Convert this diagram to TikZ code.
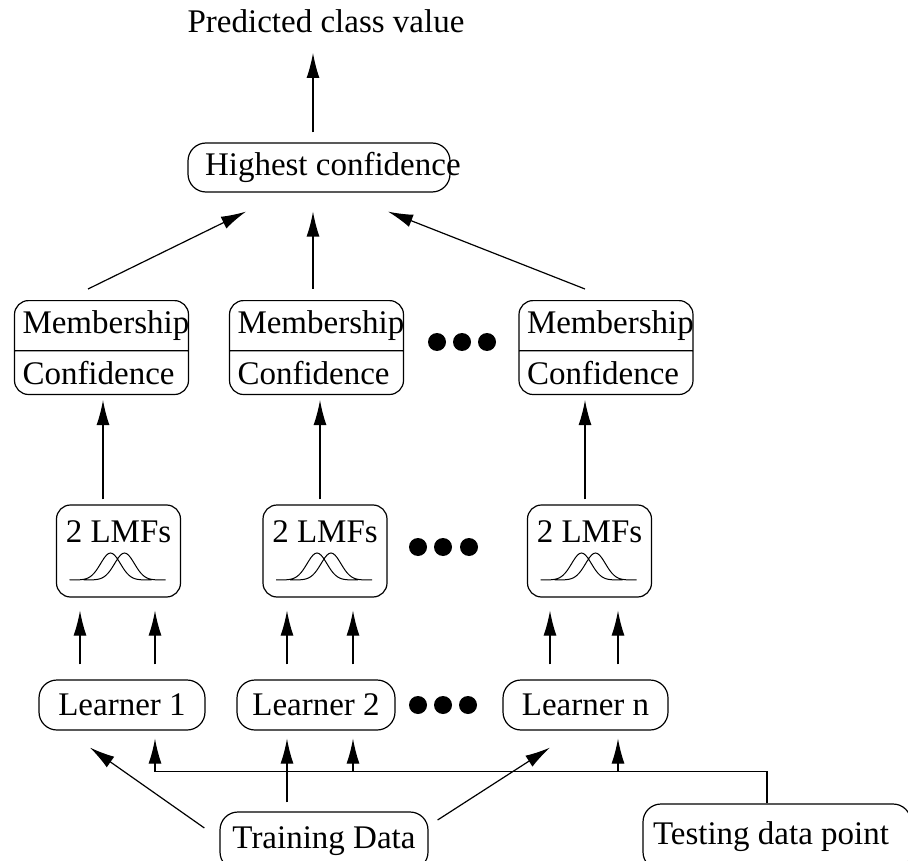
\documentclass[tikz,border=0pt]{standalone}
\usepackage{fontspec}
\setmainfont{Liberation Serif}
\usetikzlibrary{arrows.meta,shapes.multipart}

\begin{document}
\begin{tikzpicture}[x=1pt,y=-1pt,
    font=\fontsize{33}{40}\selectfont,
    box/.style={draw, rounded corners=14pt, line width=1.2pt, inner sep=0pt},
    learner/.style={box, rounded corners=18pt, minimum width=#1, minimum height=50pt},
    memb/.style={rectangle split, rectangle split parts=2, draw, rounded corners=14pt,
        line width=1.2pt, inner xsep=8pt, inner ysep=9.5pt, anchor=north},
    lmf/.style={box, minimum width=124pt, minimum height=92pt, text height=23pt, text depth=40pt},
    arr/.style={-{Latex[length=25pt,width=13pt]}, line width=1.2pt}]
    \useasboundingbox (0,0) rectangle (908,861);

    \node (pred) [anchor=base, inner sep=0pt] at (326,33) {Predicted class value};
    \node (hc) [box, rounded corners=18pt, minimum height=49pt, inner xsep=17pt] at (319,167.5) {\makebox[228pt][l]{Highest confidence}};

    \node (m1) [memb] at (101.5,300) {\makebox[158pt][l]{Membership}\nodepart{two}\makebox[158pt][l]{Confidence}};
    \node (m2) [memb] at (316.5,300) {\makebox[158pt][l]{Membership}\nodepart{two}\makebox[158pt][l]{Confidence}};
    \node (m3) [memb] at (606,300) {\makebox[158pt][l]{Membership}\nodepart{two}\makebox[158pt][l]{Confidence}};
    \fill (437,342) circle (9pt);
    \fill (462,342) circle (9pt);
    \fill (487,342) circle (9pt);

    \node (f1) [lmf] at (118.5,551) {2 LMFs};
    \node (f2) [lmf] at (325,551) {2 LMFs};
    \node (f3) [lmf] at (589.5,551) {2 LMFs};
    \foreach \f in {f1,f2,f3}{
        \draw[shift={(\f.center)}, line width=1pt]
            plot[domain=-41:41, samples=41, smooth] ({\x-8},{29-27*exp(-((\x/14)^2))})
            plot[domain=-41:41, samples=41, smooth] ({\x+6},{29-27*exp(-((\x/14)^2))});
    }
    \fill (418,547) circle (9pt);
    \fill (443,547) circle (9pt);
    \fill (469,547) circle (9pt);

    \node (l1) [learner=166pt] at (122,705) {Learner 1};
    \node (l2) [learner=158pt] at (316,705) {Learner 2};
    \node (ln) [learner=165pt] at (585.5,705) {Learner n};
    \fill (418,705) circle (9pt);
    \fill (443,705) circle (9pt);
    \fill (468,705) circle (9pt);

    \node (tr) [box, rounded corners=18pt, minimum width=208pt, minimum height=58pt] at (324,841) {Training Data};
    \node (te) [box, rounded corners=18pt, inner xsep=10pt, minimum height=66pt] at (777,837) {\makebox[248pt][l]{Testing data point}};

    \draw[arr] ([xshift=-6pt,yshift=10pt]hc.north) -- ([xshift=-13pt,yshift=-20pt]pred.base);

    \draw[arr] ([xshift=-13.5pt,yshift=11pt]m1.north) -- ([xshift=-73pt,yshift=-19pt]hc.south);
    \draw[arr] ([xshift=-3.5pt,yshift=11pt]m2.north) -- ([xshift=-6pt,yshift=-19pt]hc.south);
    \draw[arr] ([xshift=-21pt,yshift=11pt]m3.north) -- ([xshift=69pt,yshift=-19pt]hc.south);

    \draw[arr] ([xshift=-15.5pt,yshift=5pt]f1.north) -- ([xshift=1.5pt,yshift=-5pt]m1.south);
    \draw[arr] ([xshift=-5pt,yshift=5pt]f2.north) -- ([xshift=3.5pt,yshift=-5pt]m2.south);
    \draw[arr] ([xshift=-4.5pt,yshift=5pt]f3.north) -- ([xshift=-21pt,yshift=-5pt]m3.south);

    \draw[arr] ([xshift=-42pt,yshift=15pt]l1.north) -- ([xshift=-38.5pt,yshift=-13pt]f1.south);
    \draw[arr] ([xshift=33pt,yshift=15pt]l1.north) -- ([xshift=36.5pt,yshift=-13pt]f1.south);
    \draw[arr] ([xshift=-29pt,yshift=15pt]l2.north) -- ([xshift=-38pt,yshift=-13pt]f2.south);
    \draw[arr] ([xshift=37pt,yshift=15pt]l2.north) -- ([xshift=28pt,yshift=-13pt]f2.south);
    \draw[arr] ([xshift=-35.5pt,yshift=15pt]ln.north) -- ([xshift=-39.5pt,yshift=-13pt]f3.south);
    \draw[arr] ([xshift=32.5pt,yshift=15pt]ln.north) -- ([xshift=28.5pt,yshift=-13pt]f3.south);

    \draw[arr] ([xshift=-15pt,yshift=13pt]tr.west) -- ([xshift=-32pt,yshift=-17pt]l1.south);
    \draw[arr] ([xshift=-37pt,yshift=9pt]tr.north) -- ([xshift=-29pt,yshift=-8pt]l2.south);
    \draw[arr] ([xshift=9pt,yshift=21pt]tr.east) -- ([xshift=-35.5pt,yshift=-17pt]ln.south);

    \draw[arr] ([xshift=-10pt]te.north) |- ([xshift=33pt,yshift=-41pt]l1.south) -- ([xshift=33pt,yshift=-8pt]l1.south);
    \draw[arr] ([xshift=37pt,yshift=-41pt]l2.south) -- ([xshift=37pt,yshift=-8pt]l2.south);
    \draw[arr] ([xshift=32.5pt,yshift=-41pt]ln.south) -- ([xshift=32.5pt,yshift=-8pt]ln.south);
\end{tikzpicture}
\end{document}
